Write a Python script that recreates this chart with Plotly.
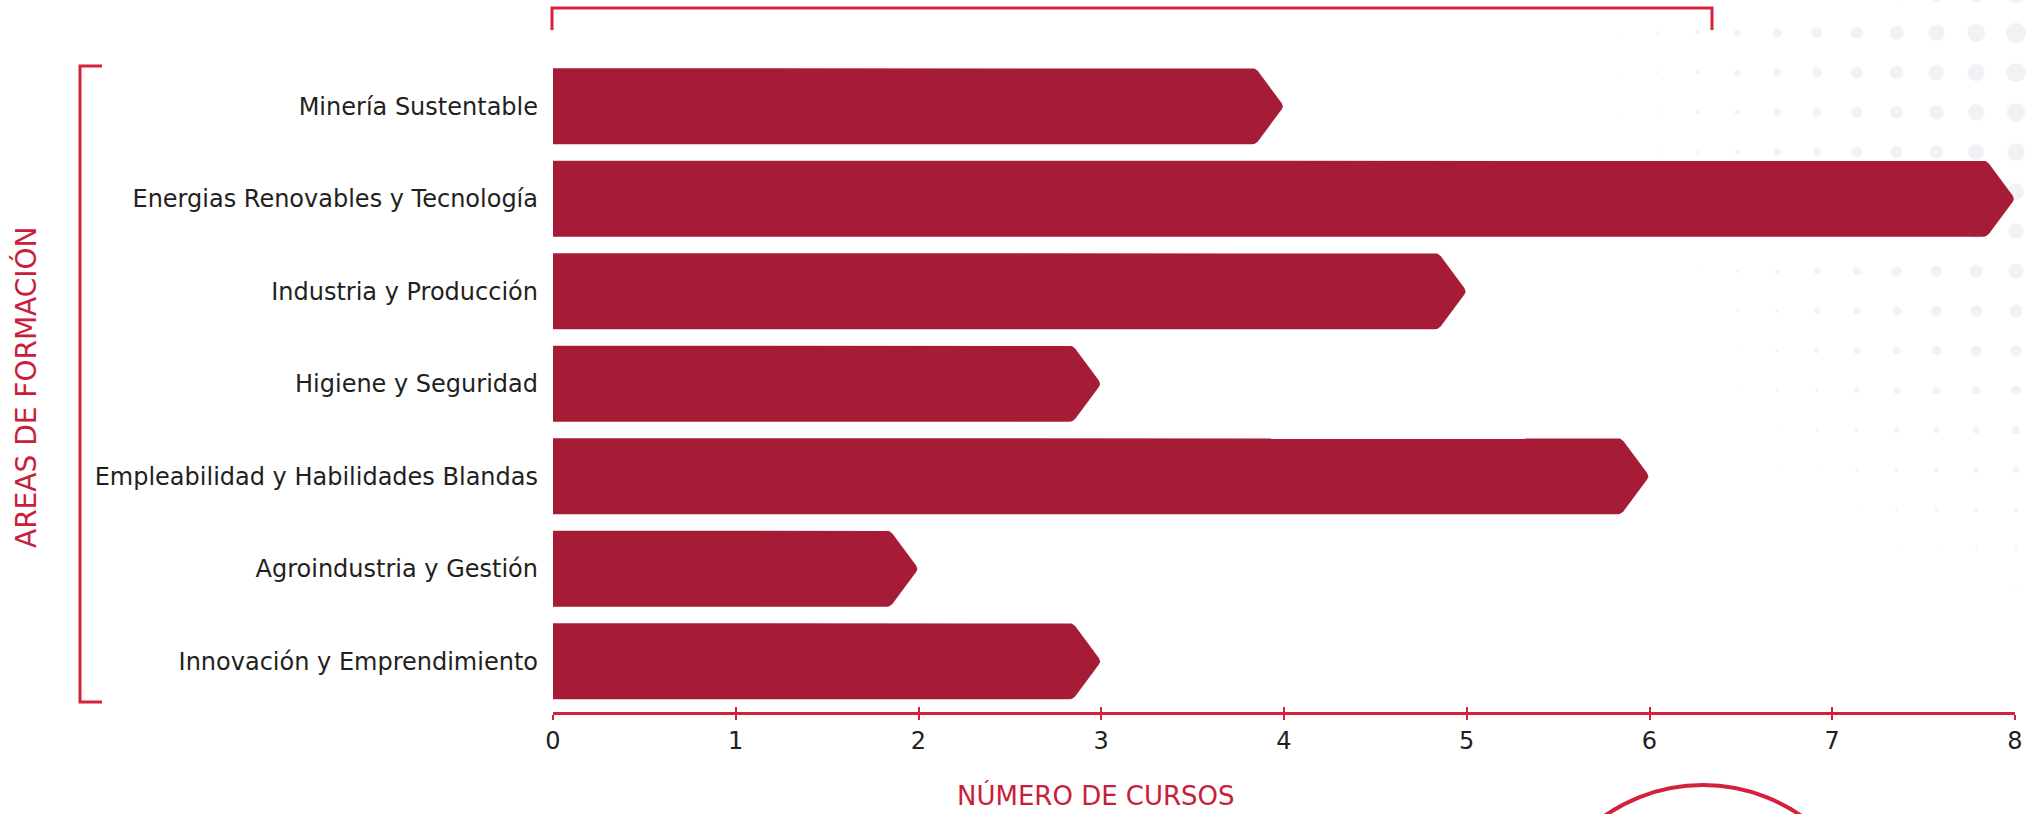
import plotly.graph_objects as go

# ---------------- data ----------------
categories = [
    "Minería Sustentable",
    "Energias Renovables y Tecnología",
    "Industria y Producción",
    "Higiene y Seguridad",
    "Empleabilidad y Habilidades Blandas",
    "Agroindustria y Gestión",
    "Innovación y Emprendimiento",
]
cursos = [4, 8, 5, 3, 6, 2, 3]
x_ticks = [0, 1, 2, 3, 4, 5, 6, 7, 8]
x_title = "NÚMERO DE CURSOS"
y_title = "AREAS DE FORMACIÓN"

# ---------------- style ----------------
W, H = 2029, 814
BAR = "#A61C36"
RED = "#D4213D"
TITLE_RED = "#C8203A"
TXT = "#231F20"
DOT = "#EBECF2"
FONT = "DejaVu Sans"

PLOT_L, PLOT_R, PLOT_T, PLOT_B = 553, 2015, 60, 712
XMAX = 8
BAND = 92.5                      # px per category
SX = (PLOT_R - PLOT_L) / XMAX    # px per course
Y_LOW = -0.5
Y_HIGH = Y_LOW + (PLOT_B - PLOT_T) / BAND
HALF = 0.412                     # half bar thickness (category units)
NOTCH = 0.155                    # chevron depth (course units)
RADIUS = 4.0                     # corner rounding, px

# decorative dot grid (diameters in px), rows top->bottom, cols left->right
dot_rows = [
    [1.2, 2.3, 4.5, 6.7, 8.7, 10.8, 12.8, 14.2, 16.3, 18.3, 20.4],
    [1.0, 2.0, 4.0, 6.0, 8.0, 10.0, 12.0, 13.5, 15.5, 17.5, 19.5],
    [0.8, 1.7, 3.5, 5.3, 7.3, 9.2, 11.2, 12.8, 14.7, 16.7, 18.6],
    [0.7, 1.3, 2.9, 4.7, 6.7, 8.4, 10.4, 12.1, 13.9, 15.9, 17.7],
    [0.5, 1.0, 2.4, 4.0, 6.0, 7.7, 9.7, 11.4, 13.1, 15.1, 16.8],
    [0.3, 0.7, 1.9, 3.3, 5.3, 6.9, 8.9, 10.7, 12.3, 14.3, 15.8],
    [0.2, 0.3, 1.3, 2.7, 4.7, 6.1, 8.1, 10.0, 11.5, 13.5, 14.9],
    [0, 0, 0.8, 2.0, 4.0, 5.3, 7.3, 9.3, 10.7, 12.7, 14.0],
    [0, 0, 0.3, 1.6, 3.5, 4.8, 6.6, 8.3, 9.7, 11.3, 12.5],
    [0, 0, 0, 1.3, 3.0, 4.3, 6.0, 7.3, 8.7, 10.0, 11.0],
    [0, 0, 0, 0.5, 2.0, 3.1, 4.6, 6.0, 7.0, 8.0, 9.1],
    [0, 0, 0, 0, 1.0, 2.0, 3.3, 4.7, 5.3, 6.0, 7.3],
    [0, 0, 0, 0, 0.4, 0.9, 2.0, 3.3, 4.1, 4.7, 5.6],
    [0, 0, 0, 0, 0, 0, 0.7, 2.0, 3.0, 3.3, 4.0],
    [0, 0, 0, 0, 0, 0, 0, 0.6, 1.3, 2.0, 2.7],
    [0, 0, 0, 0, 0, 0, 0, 0, 0, 0.4, 1.0],
]
DOT_X0, DOT_DX = 1618, 39.8
DOT_Y0, DOT_DY = -7, 39.75


def rounded(pts, radii, n=6):
    out = []
    m = len(pts)
    for i in range(m):
        px, py = pts[i]
        r = radii[i]
        if r <= 0:
            out.append((px, py))
            continue
        ax, ay = pts[i - 1]
        bx, by = pts[(i + 1) % m]
        la = ((ax - px) ** 2 + (ay - py) ** 2) ** 0.5
        lb = ((bx - px) ** 2 + (by - py) ** 2) ** 0.5
        ra, rb = min(r, la / 2), min(r, lb / 2)
        p1 = (px + (ax - px) * ra / la, py + (ay - py) * ra / la)
        p2 = (px + (bx - px) * rb / lb, py + (by - py) * rb / lb)
        for t in [k / n for k in range(n + 1)]:
            x = (1 - t) ** 2 * p1[0] + 2 * (1 - t) * t * px + t ** 2 * p2[0]
            y = (1 - t) ** 2 * p1[1] + 2 * (1 - t) * t * py + t ** 2 * p2[1]
            out.append((x, y))
    return out


fig = go.Figure()

# dots (pixel-space subplot behind everything)
dx, dy, ds = [], [], []
for j, row in enumerate(dot_rows):
    for k, s in enumerate(row):
        if s > 0:
            dx.append(DOT_X0 + DOT_DX * k)
            dy.append(DOT_Y0 + DOT_DY * j)
            ds.append(s + 0.6)
fig.add_trace(go.Scatter(
    x=dx, y=dy, mode="markers", xaxis="x", yaxis="y",
    marker=dict(size=ds, color=DOT, line=dict(width=0)),
    hoverinfo="skip", showlegend=False,
))

# chevron bars
for i, (cat, v) in enumerate(zip(categories, cursos)):
    sy = BAND
    pts = [(0, -HALF * sy), ((v - NOTCH) * SX, -HALF * sy), (v * SX, 0),
           ((v - NOTCH) * SX, HALF * sy), (0, HALF * sy)]
    rr = [0, RADIUS, RADIUS, RADIUS, 0]
    poly = rounded(pts, rr)
    xs = [p[0] / SX for p in poly] + [poly[0][0] / SX]
    ys = [i + p[1] / sy for p in poly] + [i + poly[0][1] / sy]
    fig.add_trace(go.Scatter(
        x=xs, y=ys, mode="lines", fill="toself", fillcolor=BAR,
        line=dict(width=0, color=BAR), xaxis="x2", yaxis="y2",
        name=cat, hovertemplate=f"{cat}: {v}<extra></extra>",
        showlegend=False, cliponaxis=False,
    ))

# dummy trace for the inner tick axis
fig.add_trace(go.Scatter(x=[0], y=[0], xaxis="x3", yaxis="y2", mode="markers",
                         marker=dict(opacity=0), hoverinfo="skip", showlegend=False))

xd = [PLOT_L / W, PLOT_R / W]
yd = [1 - PLOT_B / H, 1 - PLOT_T / H]

fig.update_layout(
    width=W, height=H, autosize=False,
    margin=dict(l=0, r=0, t=0, b=0, pad=0, autoexpand=False),
    paper_bgcolor="white",
    plot_bgcolor="rgba(0,0,0,0)",
    font=dict(family=FONT, color=TXT),
    xaxis=dict(domain=[0, 1], range=[0, W], visible=False, fixedrange=True,
               automargin=False),
    yaxis=dict(domain=[0, 1], range=[H, 0], visible=False, fixedrange=True,
               automargin=False),
    xaxis2=dict(
        domain=xd, anchor="y2", range=[0, XMAX], automargin=False,
        tickmode="array", tickvals=x_ticks, ticktext=[str(t) for t in x_ticks],
        showgrid=False, zeroline=False,
        showline=True, linecolor=RED, linewidth=3,
        ticks="outside", ticklen=5, tickwidth=2, tickcolor=RED,
        tickfont=dict(size=24, color=TXT, family=FONT),
    ),
    xaxis3=dict(
        overlaying="x2", anchor="y2", range=[0, XMAX], side="bottom",
        automargin=False,
        tickmode="array", tickvals=x_ticks, showticklabels=False,
        showgrid=False, zeroline=False, showline=False,
        ticks="inside", ticklen=5, tickwidth=2, tickcolor=RED,
    ),
    yaxis2=dict(
        domain=yd, anchor="x2", range=[Y_HIGH, Y_LOW], automargin=False,
        tickmode="array", tickvals=list(range(len(categories))), ticktext=categories,
        showgrid=False, zeroline=False, showline=False, ticks="",
        ticklabelstandoff=14,
        tickfont=dict(size=24, color=TXT, family=FONT),
    ),
    shapes=[
        dict(type="path", xref="x", yref="y",
             path="M 552,30 L 552,8 L 1712,8 L 1712,30",
             line=dict(color=RED, width=3)),
        dict(type="path", xref="x", yref="y",
             path="M 102,66 L 80,66 L 80,702 L 102,702",
             line=dict(color=RED, width=3)),
        dict(type="circle", xref="x", yref="y",
             x0=1531, x1=1875, y0=785, y1=1129,
             line=dict(color=RED, width=4)),
    ],
    annotations=[
        dict(text=x_title, xref="x", yref="y", x=1096, y=795, showarrow=False,
             font=dict(size=26, color=TITLE_RED, family=FONT),
             xanchor="center", yanchor="middle"),
        dict(text=y_title, xref="x", yref="y", x=26, y=387, showarrow=False,
             textangle=-90, font=dict(size=28, color=TITLE_RED, family=FONT),
             xanchor="center", yanchor="middle"),
    ],
)

fig.write_html(
    "out.html",
    config={"displayModeBar": False, "responsive": False},
    post_script="document.body.style.margin='0px';document.body.style.overflow='hidden';",
)
